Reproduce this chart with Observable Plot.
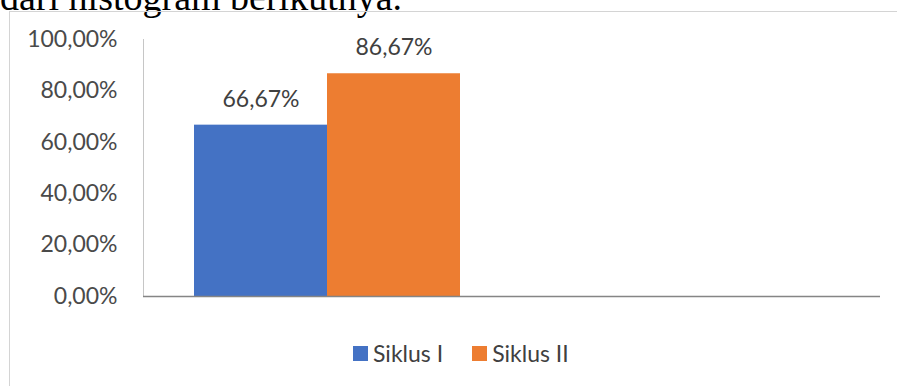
<!DOCTYPE html>
<html><head><meta charset="utf-8">
<script src="https://cdn.jsdelivr.net/npm/d3@7"></script>
<script src="https://cdn.jsdelivr.net/npm/@observablehq/plot@0.6"></script>
<style>
html,body{margin:0;padding:0;background:#fff;}
body{width:897px;height:386px;overflow:hidden;position:relative;}
#intro{position:absolute;left:0;top:-22px;font-family:"Liberation Serif",serif;font-size:38px;line-height:38px;color:#000;white-space:nowrap;}
#box{position:absolute;left:9px;top:11px;width:888px;height:380px;border-left:1px solid #d4d4d4;border-top:1px solid #d4d4d4;box-sizing:border-box;}
#chart{position:absolute;left:0;top:0;}
#legend{position:absolute;left:343px;top:327px;height:28px;line-height:28px;display:flex;align-items:center;font-family:Lato,sans-serif;font-size:23px;color:#404040;}
#legend .item{display:flex;align-items:center;margin-right:29px;}
#legend .sw{width:15px;height:15px;margin-right:5px;}
</style>
</head><body>
<div id="intro">dari histogram berikutnya.</div>
<div id="box"><div id="chart"></div><div id="legend"></div></div>
<script>
const categories = ["Hasil", ""];          // second category slot is empty
const series = ["Siklus I", "Siklus II"];
const values = [66.67, 86.67];
const colors = ["#4472C4", "#ED7D31"];
const yTicks = [0, 20, 40, 60, 80, 100];

const data = series.map((s, i) => ({category: categories[0], series: s, value: values[i]}));
const fmt = d => d.toFixed(2).replace(".", ",") + "%";

const W = 887, H = 310, mL = 133, mR = 17, mT = 27, mB = 26;
const plotW = W - mL - mR;

const chart = Plot.plot({
  width: W, height: H,
  marginLeft: mL, marginRight: mR, marginTop: mT, marginBottom: mB,
  style: {fontFamily: "Lato, sans-serif", fontSize: "23px", background: "transparent"},
  x: {type: "band", domain: series, range: [mL, mL + plotW / categories.length], paddingInner: 0, paddingOuter: 0.385, axis: null},
  y: {domain: [0, 100], axis: null},
  color: {domain: series, range: colors},
  marks: [
    Plot.frame({anchor: "left", stroke: "#c6c6c6", strokeWidth: 1}),
    Plot.barY(data, {x: "series", y: "value", fill: "series"}),
    Plot.ruleY([0], {stroke: "#858585", strokeWidth: 1.3}),
    Plot.axisY({ticks: yTicks, tickSize: 0, tickPadding: 26, tickFormat: fmt, fill: "#4a4a4a", fontSize: 23, label: null}),
    Plot.text(data, {x: "series", y: "value", text: d => fmt(d.value), dy: -26, fill: "#404040", fontSize: 23, lineAnchor: "middle"})
  ]
});
document.getElementById("chart").appendChild(chart);

const legend = document.getElementById("legend");
series.forEach((s, i) => {
  const item = document.createElement("div");
  item.className = "item";
  const sw = document.createElement("div");
  sw.className = "sw";
  sw.style.background = colors[i];
  const t = document.createElement("span");
  t.textContent = s;
  item.appendChild(sw); item.appendChild(t);
  legend.appendChild(item);
});
</script>
</body></html>
